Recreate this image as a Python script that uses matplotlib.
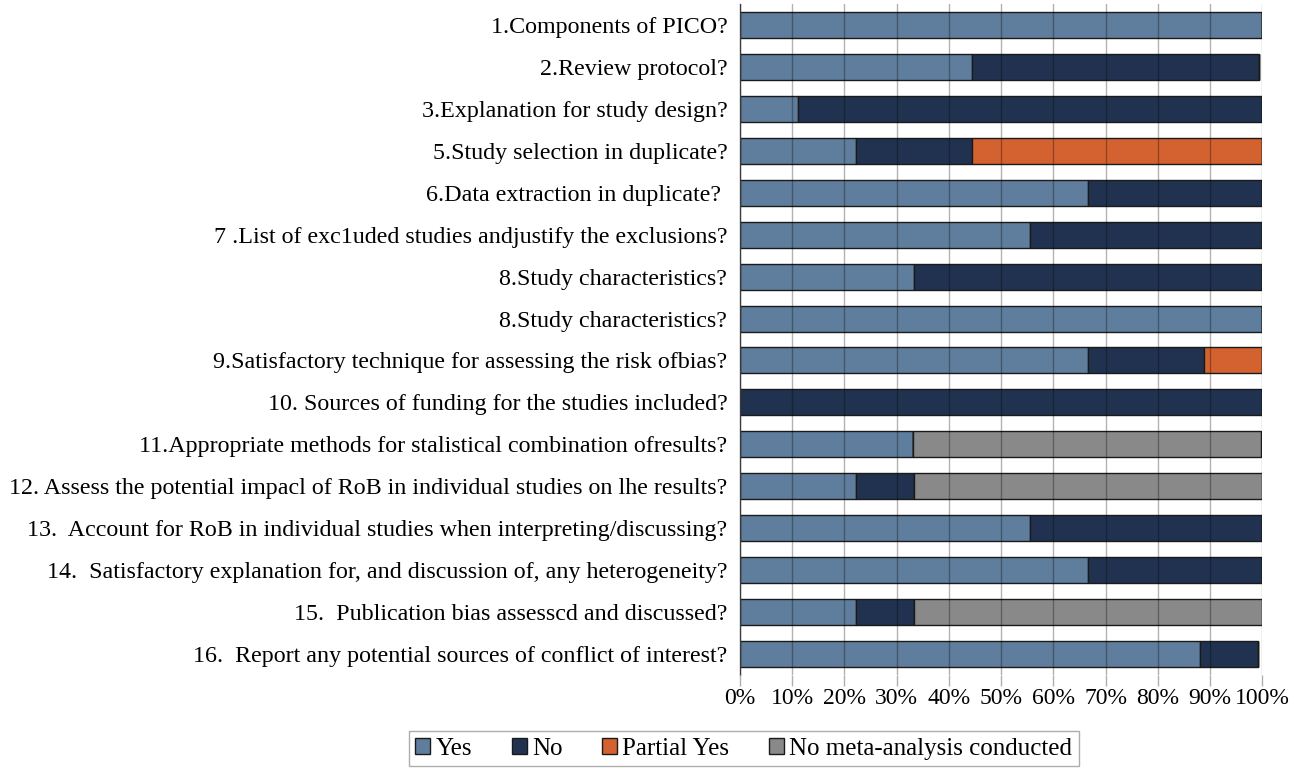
import numpy as np
import matplotlib.pyplot as plt
from matplotlib.patches import Patch

plt.rcParams['font.family'] = ['Liberation Serif', 'DejaVu Serif']

labels = [
    "1.Components of PICO?",
    "2.Review protocol?",
    "3.Explanation for study design?",
    "5.Study selection in duplicate?",
    "6.Data extraction in duplicate? ",
    "7 .List of exc1uded studies andjustify the exclusions?",
    "8.Study characteristics?",
    "8.Study characteristics?",
    "9.Satisfactory technique for assessing the risk ofbias?",
    "10. Sources of funding for the studies included?",
    "11.Appropriate methods for stalistical combination ofresults?",
    "12. Assess the potential impacl of RoB in individual studies on lhe results?",
    "13.  Account for RoB in individual studies when interpreting/discussing?",
    "14.  Satisfactory explanation for, and discussion of, any heterogeneity?",
    "15.  Publication bias assesscd and discussed?",
    "16.  Report any potential sources of conflict of interest?",
]

# percentages
yes     = [100, 44.4, 11.1, 22.2, 66.7, 55.6, 33.3, 100, 66.7, 0,   33.1, 22.2, 55.6, 66.7, 22.2, 88.0]
no      = [0,   55.0, 88.9, 22.2, 33.3, 44.4, 66.7, 0,   22.2, 100, 0,    11.1, 44.4, 33.3, 11.1, 11.1]
partial = [0,   0,    0,    55.6, 0,    0,    0,    0,   11.1, 0,   0,    0,    0,    0,    0,    0]
no_meta = [0,   0,    0,    0,    0,    0,    0,    0,   0,    0,   66.6, 66.7, 0,    0,    66.7, 0]

series = ["Yes", "No", "Partial Yes", "No meta-analysis conducted"]
colors = ["#5f7d9c", "#20324f", "#d46130", "#898989"]

fig = plt.figure(figsize=(12.98, 7.69), dpi=100)
ax = fig.add_axes([0.570, 0.1222, 0.4025, 0.8726])

y = np.arange(len(labels))
left = np.zeros(len(labels))
for vals, col in zip([yes, no, partial, no_meta], colors):
    vals = np.array(vals, dtype=float)
    ax.barh(y, vals, left=left, height=0.62, color=col, edgecolor="#1a1a1a", linewidth=1.0, zorder=2)
    left += vals

ax.set_xlim(0, 100)
ax.set_ylim(len(labels) - 0.5, -0.5)
ax.set_yticks(y)
ax.set_yticklabels(labels, fontsize=17.3)
ax.set_xticks(np.arange(0, 101, 10))
ax.set_xticklabels([f"{v}%" for v in range(0, 101, 10)], fontsize=17)

ax.xaxis.grid(True, color="black", alpha=0.3, linewidth=1.0, zorder=3)
ax.set_axisbelow(False)
ax.tick_params(axis="y", length=0, pad=9)
ax.tick_params(axis="x", length=8, color="#b0b0b0", width=1.0, pad=1)
for s in ["top", "right", "bottom"]:
    ax.spines[s].set_visible(False)
ax.spines["left"].set_color("#555555")
ax.spines["left"].set_linewidth(1.0)

handles = [Patch(facecolor=c, edgecolor="#1a1a1a", linewidth=1.0) for c in colors]
fig.legend(handles, series, loc="upper center", bbox_to_anchor=(0.573, 0.049), ncol=4,
           fontsize=18, frameon=True, fancybox=False, edgecolor="#999999",
           handlelength=0.6, handleheight=0.6, handletextpad=0.2, columnspacing=1.6,
           borderpad=0.25, borderaxespad=0)

fig.savefig("out.png", dpi=100)
